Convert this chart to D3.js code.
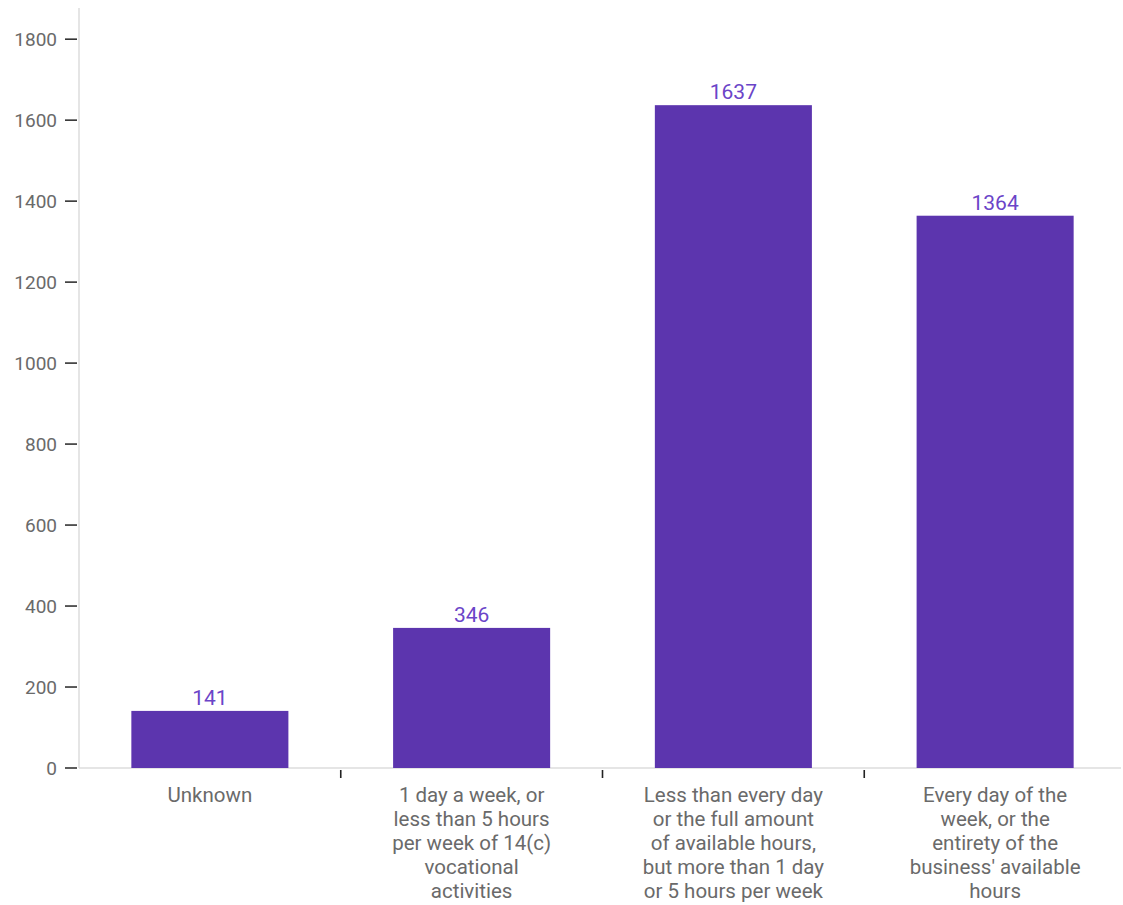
<!DOCTYPE html>
<html>
<head>
<meta charset="utf-8">
<script src="https://cdn.jsdelivr.net/npm/d3@7"></script>
<style>
  html, body { margin: 0; padding: 0; background: #fff; }
  svg { display: block; font-family: "Roboto", "Liberation Sans", sans-serif; }
</style>
</head>
<body>
<svg id="chart" width="1123" height="905"></svg>
<script>
// Participation frequency counts
const categories = [
  "Unknown",
  "1 day a week, or less than 5 hours per week of 14(c) vocational activities",
  "Less than every day or the full amount of available hours, but more than 1 day or 5 hours per week",
  "Every day of the week, or the entirety of the business' available hours"
];
const categoryLines = [
  ["Unknown"],
  ["1 day a week, or", "less than 5 hours", "per week of 14(c)", "vocational", "activities"],
  ["Less than every day", "or the full amount", "of available hours,", "but more than 1 day", "or 5 hours per week"],
  ["Every day of the", "week, or the", "entirety of the", "business' available", "hours"]
];
const counts = [141, 346, 1637, 1364];
const yTicks = [0, 200, 400, 600, 800, 1000, 1200, 1400, 1600, 1800];

const svg = d3.select("#chart");
const plotLeft = 79, plotRight = 1126, plotTop = 8, plotBottom = 768;

const x = d3.scaleBand().domain(categories).range([plotLeft, plotRight]).padding(0);
const y = d3.scaleLinear().domain([0, 1877]).range([plotBottom, plotTop]);

const barColor = "#5c35ae";
const labelColor = "#6b44c8";
const textColor = "#6a6a6a";

// y axis
const yAxis = svg.append("g").attr("transform", `translate(${plotLeft},0)`);
yAxis.append("line")
  .attr("x1", 0).attr("x2", 0).attr("y1", plotTop).attr("y2", plotBottom)
  .attr("stroke", "#ddd").attr("stroke-width", 1.5);
yTicks.forEach(t => {
  yAxis.append("line")
    .attr("x1", -14).attr("x2", -2).attr("y1", y(t)).attr("y2", y(t))
    .attr("stroke", "#333").attr("stroke-width", 1.6);
  yAxis.append("text")
    .attr("x", -22).attr("y", y(t)).attr("dy", "0.35em")
    .attr("text-anchor", "end").attr("fill", textColor)
    .attr("font-size", 19).text(t);
});

// x axis baseline and separators between categories
svg.append("line")
  .attr("x1", plotLeft).attr("x2", 1121).attr("y1", plotBottom).attr("y2", plotBottom)
  .attr("stroke", "#ddd").attr("stroke-width", 1.5);
categories.slice(1).forEach(c => {
  svg.append("line")
    .attr("x1", x(c)).attr("x2", x(c)).attr("y1", plotBottom + 2).attr("y2", plotBottom + 10)
    .attr("stroke", "#222").attr("stroke-width", 1.6);
});

// bars
const barW = x.bandwidth() * 0.6;
svg.selectAll("rect.bar").data(categories).join("rect")
  .attr("class", "bar")
  .attr("x", c => x(c) + (x.bandwidth() - barW) / 2)
  .attr("width", barW)
  .attr("y", (c, i) => y(counts[i]))
  .attr("height", (c, i) => plotBottom - y(counts[i]))
  .attr("fill", barColor);

// value labels
svg.selectAll("text.val").data(categories).join("text")
  .attr("class", "val")
  .attr("x", c => x(c) + x.bandwidth() / 2)
  .attr("y", (c, i) => y(counts[i]) - 6)
  .attr("text-anchor", "middle").attr("fill", labelColor)
  .attr("font-size", 21).text((c, i) => counts[i]);

// category labels
categories.forEach((c, i) => {
  const t = svg.append("text")
    .attr("x", x(c) + x.bandwidth() / 2)
    .attr("text-anchor", "middle").attr("fill", textColor)
    .attr("font-size", 20.5);
  categoryLines[i].forEach((ln, j) => {
    t.append("tspan").attr("x", x(c) + x.bandwidth() / 2)
      .attr("y", 802 + j * 24).text(ln);
  });
});
</script>
</body>
</html>
